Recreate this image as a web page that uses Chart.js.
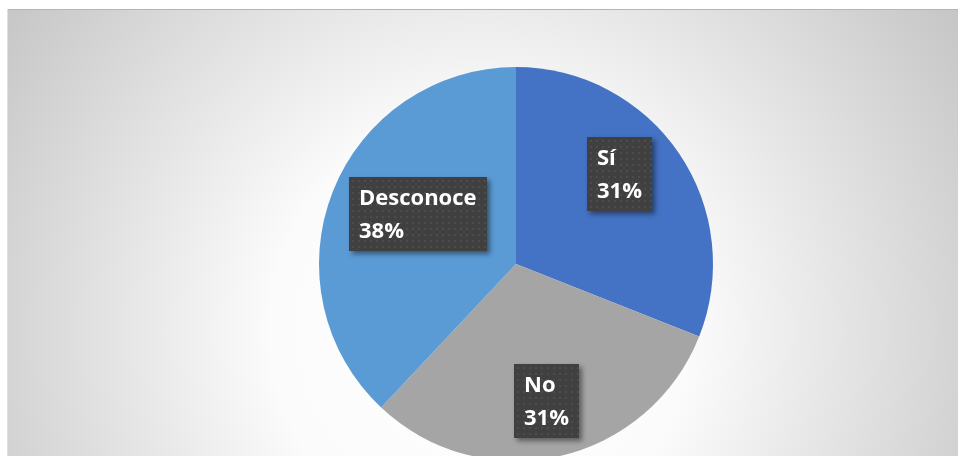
<!DOCTYPE html>
<html>
<head>
<meta charset="utf-8">
<script src="https://cdn.jsdelivr.net/npm/chart.js@4.4.1/dist/chart.umd.min.js"></script>
<style>
  html, body { margin: 0; padding: 0; background: #fff; overflow: hidden; }
  #wrap { width: 958px; height: 456px; overflow: hidden; }
</style>
</head>
<body>
<div id="wrap"><canvas id="pie-chart" width="958" height="530"></canvas></div>
<script>
const categories = ['Sí', 'No', 'Desconoce'];
const values = [31, 31, 38];
const colors = ['#4472C4', '#A5A5A5', '#5B9BD5'];
// where each label box sits: share of the slice's angle, and share of the radius
const labelAngleFrac = [0.44, 0.5, 0.54];
const labelDist = [0.695, 0.71, 0.56];

const backgroundPlugin = {
    id: 'bg',
    beforeDraw(chart) {
        const ctx = chart.ctx;
        ctx.save();
        ctx.fillStyle = '#ffffff';
        ctx.fillRect(0, 0, chart.width, chart.height);
        const g = ctx.createRadialGradient(480, 330, 0, 480, 330, 600);
        g.addColorStop(0, '#ffffff');
        g.addColorStop(0.35, '#fbfbfb');
        g.addColorStop(1, '#c2c2c2');
        ctx.fillStyle = g;
        ctx.fillRect(7, 9, chart.width - 7, chart.height - 9);
        ctx.strokeStyle = '#b4b4b4';
        ctx.lineWidth = 1;
        ctx.beginPath();
        ctx.moveTo(7, 9.5);
        ctx.lineTo(chart.width, 9.5);
        ctx.stroke();
        ctx.strokeStyle = '#e0e0e0';
        ctx.beginPath();
        ctx.moveTo(7.5, 9);
        ctx.lineTo(7.5, chart.height);
        ctx.stroke();
        ctx.restore();
    }
};

const labelPlugin = {
    id: 'boxLabels',
    afterDatasetsDraw(chart) {
        const ctx = chart.ctx;
        const meta = chart.getDatasetMeta(0);
        const total = values.reduce((a, b) => a + b, 0);
        ctx.save();
        ctx.font = 'bold 22px "Open Sans"';
        meta.data.forEach((arc, i) => {
            const p = arc.getProps(['x', 'y', 'startAngle', 'endAngle', 'outerRadius'], true);
            const a = p.startAngle + (p.endAngle - p.startAngle) * labelAngleFrac[i];
            const cx = p.x + Math.cos(a) * p.outerRadius * labelDist[i];
            const cy = p.y + Math.sin(a) * p.outerRadius * labelDist[i];
            const line1 = categories[i];
            const line2 = Math.round(values[i] / total * 100) + '%';
            const w = Math.round(Math.max(ctx.measureText(line1).width, ctx.measureText(line2).width) + 20);
            const h = 74;
            const x = Math.round(cx - w / 2);
            const y = Math.round(cy - h / 2);

            ctx.save();
            ctx.shadowColor = 'rgba(0,0,0,0.45)';
            ctx.shadowBlur = 5;
            ctx.shadowOffsetX = 3;
            ctx.shadowOffsetY = 3;
            ctx.fillStyle = '#404040';
            ctx.fillRect(x, y, w, h);
            ctx.restore();

            // dotted texture
            ctx.fillStyle = '#4c4c4c';
            for (let dx = 3; dx < w - 1; dx += 6) {
                for (let dy = 3; dy < h - 1; dy += 6) {
                    ctx.fillRect(x + dx, y + dy, 2, 2);
                }
            }

            ctx.fillStyle = '#ffffff';
            ctx.textBaseline = 'middle';
            ctx.textAlign = 'left';
            ctx.fillText(line1, x + 10, y + 22);
            ctx.fillText(line2, x + 10, y + 55);
        });
        ctx.restore();
    }
};

new Chart(document.getElementById('pie-chart'), {
    type: 'pie',
    data: {
        labels: categories,
        datasets: [{
            data: values,
            backgroundColor: colors,
            borderWidth: 0
        }]
    },
    options: {
        responsive: false,
        animation: false,
        layout: { padding: { left: 319, right: 245, top: 67, bottom: 69 } },
        plugins: {
            legend: { display: false },
            tooltip: { enabled: false }
        }
    },
    plugins: [backgroundPlugin, labelPlugin]
});
</script>
</body>
</html>
